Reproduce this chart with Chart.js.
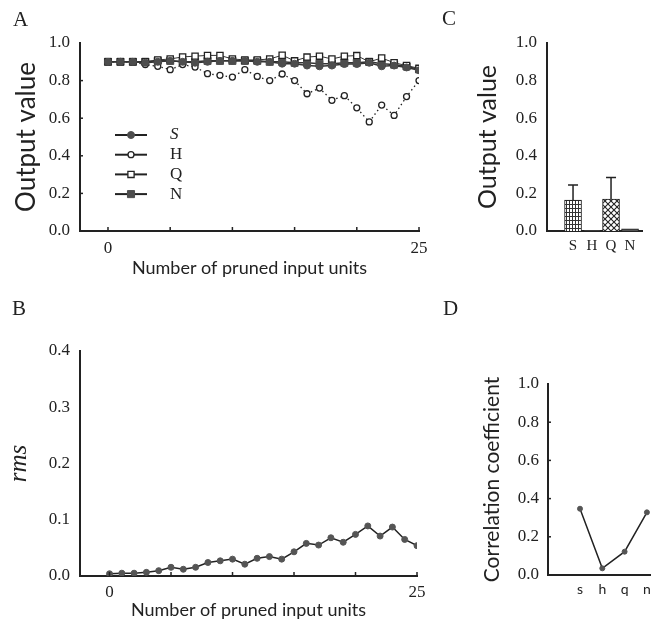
<!DOCTYPE html>
<html>
<head>
<meta charset="utf-8">
<script src="https://cdn.jsdelivr.net/npm/chart.js@4.4.1/dist/chart.umd.min.js"></script>
<style>
  body { margin: 0; background: #fff; }
  #figure { position: relative; width: 657px; height: 623px; overflow: hidden; }
  #figure canvas { position: absolute; }
  .panel-letter { position: absolute; font: 21px "Liberation Serif", serif; line-height: 21px; color: #222; }
</style>
</head>
<body>
<div id="figure">
  <canvas id="plotA" width="440" height="290" style="left:0;top:0"></canvas>
  <canvas id="plotC" width="217" height="290" style="left:440px;top:0"></canvas>
  <canvas id="plotB" width="440" height="333" style="left:0;top:290px"></canvas>
  <canvas id="plotD" width="217" height="333" style="left:440px;top:290px"></canvas>
  <div class="panel-letter" style="left:13px;top:9px">A</div>
  <div class="panel-letter" style="left:12px;top:298px">B</div>
  <div class="panel-letter" style="left:442px;top:8px">C</div>
  <div class="panel-letter" style="left:443px;top:298px">D</div>
</div>
<script>
// output of each unit type while input units are pruned one by one
const prunedUnits = [0, 1, 2, 3, 4, 5, 6, 7, 8, 9, 10, 11, 12, 13, 14, 15, 16, 17, 18, 19, 20, 21, 22, 23, 24, 25];
const outputS = [0.90, 0.90, 0.90, 0.895, 0.90, 0.905, 0.90, 0.895, 0.90, 0.905, 0.905, 0.905, 0.90, 0.90, 0.89, 0.89, 0.88, 0.876, 0.88, 0.888, 0.888, 0.895, 0.876, 0.88, 0.87, 0.855];
const outputH = [0.90, 0.90, 0.90, 0.885, 0.876, 0.858, 0.885, 0.872, 0.837, 0.828, 0.819, 0.858, 0.822, 0.80, 0.835, 0.80, 0.73, 0.76, 0.695, 0.72, 0.655, 0.58, 0.67, 0.615, 0.715, 0.80];
const outputQ = [0.90, 0.90, 0.90, 0.90, 0.91, 0.915, 0.926, 0.93, 0.934, 0.934, 0.915, 0.91, 0.91, 0.915, 0.935, 0.905, 0.925, 0.93, 0.915, 0.93, 0.933, 0.90, 0.92, 0.895, 0.88, 0.865];
const outputN = [0.90, 0.90, 0.90, 0.90, 0.905, 0.905, 0.90, 0.90, 0.905, 0.905, 0.905, 0.905, 0.905, 0.90, 0.90, 0.895, 0.895, 0.89, 0.89, 0.895, 0.895, 0.90, 0.89, 0.885, 0.875, 0.86];
const seriesNames = ['S', 'H', 'Q', 'N'];
const pruneTicks = [0, 5, 10, 15, 20, 25];
const pruneTickLabels = ['0', '', '', '', '', '25'];

// rms error against number of pruned units
const rmsValues = [0.004, 0.005, 0.005, 0.0065, 0.0095, 0.0155, 0.012, 0.0155, 0.024, 0.027, 0.030, 0.021, 0.0315, 0.0345, 0.030, 0.043, 0.058, 0.055, 0.068, 0.060, 0.074, 0.089, 0.071, 0.087, 0.065, 0.054];

// mean output per unit type with upper error
const unitTypes = ['S', 'H', 'Q', 'N'];
const meanOutput = [0.165, 0.004, 0.17, 0.012];
const outputError = [0.08, 0, 0.115, 0];

// correlation coefficient per unit type
const corrLabels = ['s', 'h', 'q', 'n'];
const corrValues = [0.347, 0.035, 0.122, 0.328];

const ink = '#222';
const markFill = '#4d4d4d';
const serif = '"Liberation Serif", "Times New Roman", serif';
const sans = 'Lato, "Open Sans", sans-serif';

const pairs = (xs, ys) => ys.map((y, i) => ({ x: xs[i], y }));

// small tick marks pointing into the plot
const innerTicks = {
  id: 'innerTicks',
  afterDraw(chart, args, opts) {
    const { ctx, chartArea, scales: { x, y } } = chart;
    ctx.save();
    ctx.strokeStyle = ink;
    ctx.lineWidth = 1.5;
    (opts.x || []).forEach(v => {
      const px = x.getPixelForValue(v);
      ctx.beginPath();
      ctx.moveTo(px, chartArea.bottom);
      ctx.lineTo(px, chartArea.bottom - 4);
      ctx.stroke();
    });
    (opts.y || []).forEach(v => {
      const py = y.getPixelForValue(v);
      ctx.beginPath();
      ctx.moveTo(chartArea.left, py);
      ctx.lineTo(chartArea.left + 3, py);
      ctx.stroke();
    });
    ctx.restore();
  }
};

// key with a line sample and marker for each series
const seriesKey = {
  id: 'seriesKey',
  afterDraw(chart) {
    const { ctx, chartArea } = chart;
    chart.data.datasets.forEach((ds, i) => {
      const y = chartArea.top + 92 + i * 19.7;
      const x0 = chartArea.left + 35;
      const x1 = x0 + 32;
      const xm = (x0 + x1) / 2;
      ctx.save();
      ctx.strokeStyle = ink;
      ctx.lineWidth = 2;
      ctx.beginPath();
      ctx.moveTo(x0, y);
      ctx.lineTo(x1, y);
      ctx.stroke();
      ctx.fillStyle = ds.pointBackgroundColor;
      ctx.strokeStyle = ds.pointBorderColor;
      ctx.lineWidth = ds.pointBorderWidth;
      ctx.beginPath();
      if (ds.pointStyle === 'rect') {
        const h = ds.pointRadius * Math.SQRT1_2;
        ctx.rect(xm - h, y - h, 2 * h, 2 * h);
      } else {
        ctx.arc(xm, y, ds.pointRadius, 0, Math.PI * 2);
      }
      ctx.fill();
      ctx.stroke();
      ctx.fillStyle = ink;
      ctx.font = (ds.label === 'S' ? 'italic ' : '') + '17px ' + serif;
      ctx.textBaseline = 'middle';
      ctx.fillText(ds.label, chartArea.left + 90, y);
      ctx.restore();
    });
  }
};

// upward error bars on the mean output bars
const errorCaps = {
  id: 'errorCaps',
  afterDatasetsDraw(chart) {
    const { ctx, scales: { y } } = chart;
    ctx.save();
    ctx.strokeStyle = ink;
    ctx.lineWidth = 1.5;
    chart.getDatasetMeta(0).data.forEach((bar, i) => {
      if (!outputError[i]) return;
      const top = y.getPixelForValue(meanOutput[i] + outputError[i]);
      ctx.beginPath();
      ctx.moveTo(bar.x, bar.y);
      ctx.lineTo(bar.x, top);
      ctx.moveTo(bar.x - 5, top);
      ctx.lineTo(bar.x + 5, top);
      ctx.stroke();
    });
    ctx.restore();
  }
};

function gridPattern() {
  const c = document.createElement('canvas');
  c.width = 3; c.height = 4;
  const g = c.getContext('2d');
  g.fillStyle = '#fff';
  g.fillRect(0, 0, 3, 4);
  g.fillStyle = '#333';
  g.fillRect(0, 0, 1, 4);
  g.fillRect(0, 0, 3, 1);
  return g.createPattern(c, 'repeat');
}

function diamondPattern() {
  const c = document.createElement('canvas');
  c.width = 6; c.height = 6;
  const g = c.getContext('2d');
  g.fillStyle = '#fff';
  g.fillRect(0, 0, 6, 6);
  g.strokeStyle = '#222';
  g.lineWidth = 1.1;
  g.beginPath();
  g.moveTo(0, 0); g.lineTo(6, 6);
  g.moveTo(6, 0); g.lineTo(0, 6);
  g.stroke();
  return g.createPattern(c, 'repeat');
}

const noGrid = { display: false, drawTicks: false };

function valueAxis(max, step, width, title, pad, titleFont) {
  return {
    min: 0,
    max,
    afterBuildTicks: s => {
      const t = [];
      for (let k = 0; k <= Math.round(max / step); k++) t.push({ value: k * step });
      s.ticks = t;
    },
    ticks: { callback: v => v.toFixed(1), font: { family: serif, size: 17 }, color: ink, padding: pad },
    grid: noGrid,
    border: { display: true, color: ink, width: 2 },
    title: { display: true, text: title.text, font: titleFont, color: ink, padding: { top: title.pad, bottom: 0 } },
    afterFit: s => { s.width = width; }
  };
}

function pruneAxis(min, max, height, labelPad, titlePad) {
  return {
    type: 'linear',
    min,
    max,
    offset: false,
    afterBuildTicks: s => { s.ticks = pruneTicks.map(v => ({ value: v })); },
    ticks: {
      callback: v => pruneTickLabels[pruneTicks.indexOf(v)],
      font: { family: serif, size: 17 }, color: ink, padding: labelPad, maxRotation: 0, autoSkip: false
    },
    grid: noGrid,
    border: { display: true, color: ink, width: 2 },
    title: { display: true, text: 'Number of pruned input units', font: { family: sans, size: 18 }, color: ink, padding: { top: 0, bottom: titlePad } },
    afterFit: s => { s.height = height; }
  };
}

function categoryAxis(labels, min, max, height, labelPad, font) {
  return {
    type: 'linear',
    min,
    max,
    offset: false,
    afterBuildTicks: s => { s.ticks = labels.map((l, i) => ({ value: i })); },
    ticks: { callback: v => labels[v], font, color: ink, padding: labelPad, maxRotation: 0, autoSkip: false },
    grid: noGrid,
    border: { display: true, color: ink, width: 2 },
    afterFit: s => { s.height = height; }
  };
}

const baseOptions = {
  responsive: false,
  animation: false,
  events: []
};

// A: output value vs pruned units
new Chart(document.getElementById('plotA'), {
  type: 'line',
  data: {
    datasets: [
      {
        label: seriesNames[0], data: pairs(prunedUnits, outputS),
        borderColor: '#333', borderWidth: 1.5,
        pointStyle: 'circle', pointRadius: 3.5, pointBackgroundColor: markFill, pointBorderColor: markFill, pointBorderWidth: 1
      },
      {
        label: seriesNames[1], data: pairs(prunedUnits, outputH),
        borderColor: ink, borderWidth: 1.3, borderDash: [1.5, 3],
        pointStyle: 'circle', pointRadius: 3, pointBackgroundColor: '#fff', pointBorderColor: ink, pointBorderWidth: 1.3
      },
      {
        label: seriesNames[2], data: pairs(prunedUnits, outputQ),
        borderColor: '#333', borderWidth: 1,
        pointStyle: 'rect', pointRadius: 4.4, pointBackgroundColor: '#fff', pointBorderColor: ink, pointBorderWidth: 1.3
      },
      {
        label: seriesNames[3], data: pairs(prunedUnits, outputN),
        borderColor: '#333', borderWidth: 1.5,
        pointStyle: 'rect', pointRadius: 5, pointBackgroundColor: markFill, pointBorderColor: markFill, pointBorderWidth: 1
      }
    ]
  },
  options: {
    ...baseOptions,
    layout: { padding: { left: 0, top: 43, right: 21, bottom: 0 } },
    plugins: { legend: { display: false }, tooltip: { enabled: false }, innerTicks: { x: pruneTicks, y: [0.2, 0.4, 0.6, 0.8] } },
    scales: {
      x: pruneAxis(-2.25, 25, 59, 7, 11),
      y: valueAxis(1, 0.2, 80, { text: 'Output value', pad: 11 }, 10, { family: sans, size: 26 })
    }
  },
  plugins: [innerTicks, seriesKey]
});

// B: rms vs pruned units
new Chart(document.getElementById('plotB'), {
  type: 'line',
  data: {
    datasets: [{
      label: 'rms', data: pairs(prunedUnits, rmsValues),
      borderColor: ink, borderWidth: 1.5,
      pointStyle: 'circle', pointRadius: 3, pointBackgroundColor: '#555', pointBorderColor: '#555', pointBorderWidth: 1
    }]
  },
  options: {
    ...baseOptions,
    layout: { padding: { left: 0, top: 61, right: 23, bottom: 0 } },
    plugins: { legend: { display: false }, tooltip: { enabled: false }, innerTicks: { x: pruneTicks, y: [] } },
    scales: {
      x: pruneAxis(-2.4, 25, 47, 6, 2),
      y: valueAxis(0.4, 0.1, 80, { text: 'rms', pad: 4 }, 10, { family: serif, size: 25, style: 'italic' })
    }
  },
  plugins: [innerTicks]
});

// C: mean output per unit type
new Chart(document.getElementById('plotC'), {
  type: 'bar',
  data: {
    datasets: [{
      label: 'Output value', data: pairs([0, 1, 2, 3], meanOutput),
      backgroundColor: [gridPattern(), '#444', diamondPattern(), '#555'],
      borderColor: ink, borderWidth: 1, barThickness: 17
    }]
  },
  options: {
    ...baseOptions,
    layout: { padding: { left: 0, top: 43, right: 15, bottom: 0 } },
    plugins: { legend: { display: false }, tooltip: { enabled: false } },
    scales: {
      x: categoryAxis(unitTypes, -1.37, 3.63, 59, 6, { family: serif, size: 15 }),
      y: valueAxis(1, 0.2, 107, { text: 'Output value', pad: 33 }, 10, { family: sans, size: 25 })
    }
  },
  plugins: [errorCaps]
});

// D: correlation coefficient per unit type
new Chart(document.getElementById('plotD'), {
  type: 'line',
  data: {
    datasets: [{
      label: 'Correlation coefficient', data: pairs([0, 1, 2, 3], corrValues),
      borderColor: ink, borderWidth: 1.5,
      pointStyle: 'circle', pointRadius: 2.5, pointBackgroundColor: '#555', pointBorderColor: '#555', pointBorderWidth: 1
    }]
  },
  options: {
    ...baseOptions,
    layout: { padding: { left: 0, top: 94, right: 0, bottom: 0 } },
    plugins: { legend: { display: false }, tooltip: { enabled: false }, innerTicks: { x: [], y: [0.2, 0.4, 0.6, 0.8] } },
    scales: {
      x: categoryAxis(corrLabels, -1.435, 3.17, 48, 6, { family: sans, size: 14 }),
      y: valueAxis(1, 0.2, 108, { text: 'Correlation coefficient', pad: 40 }, 9, { family: sans, size: 21 })
    }
  },
  plugins: [innerTicks]
});
</script>
</body>
</html>
